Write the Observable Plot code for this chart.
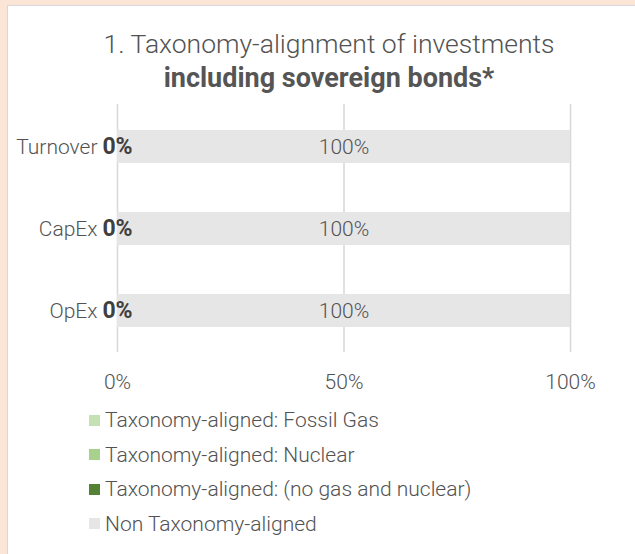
<!DOCTYPE html>
<html><head><meta charset="utf-8">
<script src="https://cdn.jsdelivr.net/npm/d3@7"></script>
<script src="https://cdn.jsdelivr.net/npm/@observablehq/plot@0.6"></script>
<style>
html,body{margin:0;padding:0;background:#fbe5d6;}
#wrap{position:relative;width:635px;height:554px;overflow:hidden;background:#fbe5d6;font-family:Roboto,"Open Sans",sans-serif;color:#525252;}
#panel{position:absolute;left:7px;top:5px;width:700px;height:700px;background:#fff;border:1.5px solid #d6d6dc;}
#title{position:absolute;left:0;width:658px;top:27px;text-align:center;font-size:26.5px;line-height:34px;font-weight:300;color:#525252;}
#title b{font-weight:700;font-size:27px;color:#555;}
#chart{position:absolute;left:0;top:90px;}
#legend{position:absolute;left:89px;top:403px;font-size:21px;font-weight:300;color:#525252;}
.item{display:flex;align-items:center;height:34.5px;}
.sw{width:11px;height:11px;margin-right:5px;}
</style></head>
<body><div id="wrap"><div id="panel"></div>
<div id="title">1. Taxonomy-alignment of investments<br><b>including sovereign bonds*</b></div>
<div id="chart"></div><div id="legend"></div></div>
<script>
const categories = ["Turnover", "CapEx", "OpEx"];
const seriesNames = ["Taxonomy-aligned: Fossil Gas", "Taxonomy-aligned: Nuclear", "Taxonomy-aligned: (no gas and nuclear)", "Non Taxonomy-aligned"];
const seriesColors = ["#c5e0b4", "#a9d18e", "#548235", "#e6e6e6"];
const fossilGas = [0, 0, 0];
const nuclear = [0, 0, 0];
const alignedNoGasNuclear = [0, 0, 0];
const nonAligned = [100, 100, 100];
const xTicks = [0, 50, 100];

const values = [fossilGas, nuclear, alignedNoGasNuclear, nonAligned];
const rows = [];
seriesNames.forEach((s, si) => categories.forEach((c, ci) => rows.push({cat: c, series: s, value: values[si][ci]})));
const alignedRows = rows.filter(d => d.series === seriesNames[2]);
const nonRows = rows.filter(d => d.series === seriesNames[3]);

const plot = Plot.plot({
  width: 635, height: 310,
  marginTop: 14, marginBottom: 48, marginLeft: 117, marginRight: 65,
  style: {fontFamily: "Roboto, 'Open Sans', sans-serif", color: "#525252", background: "transparent"},
  x: {domain: [0, 100], ticks: xTicks, tickFormat: d => d + "%"},
  y: {domain: categories, paddingInner: 0.6, paddingOuter: 0.3},
  color: {domain: seriesNames, range: seriesColors},
  marks: [
    Plot.gridX(xTicks, {stroke: "#d9d9d9", strokeOpacity: 1, strokeWidth: 1.6}),
    Plot.barX(rows, Plot.stackX({y: "cat", x: "value", fill: "series", order: seriesNames})),
    Plot.axisX({ticks: xTicks, tickFormat: d => d + "%", tickSize: 0, tickPadding: 22, fontSize: 21, fontWeight: 300, label: null}),
    Plot.axisY({tickSize: 0, tickPadding: 20, fontSize: 21, fontWeight: 300, label: null}),
    Plot.text(alignedRows, {x: d => 0, y: "cat", text: d => d.value + "%", fontSize: 23, fontWeight: 700, fill: "#404040"}),
    Plot.text(nonRows, {x: d => d.value / 2, y: "cat", text: d => d.value + "%", fontSize: 21, fontWeight: 300, fill: "#525252"})
  ]
});
document.getElementById("chart").appendChild(plot);

const lg = document.getElementById("legend");
seriesNames.forEach((s, i) => {
  const it = document.createElement("div"); it.className = "item";
  const sw = document.createElement("span"); sw.className = "sw"; sw.style.background = seriesColors[i];
  const t = document.createElement("span"); t.textContent = s;
  it.appendChild(sw); it.appendChild(t); lg.appendChild(it);
});
</script></body></html>
